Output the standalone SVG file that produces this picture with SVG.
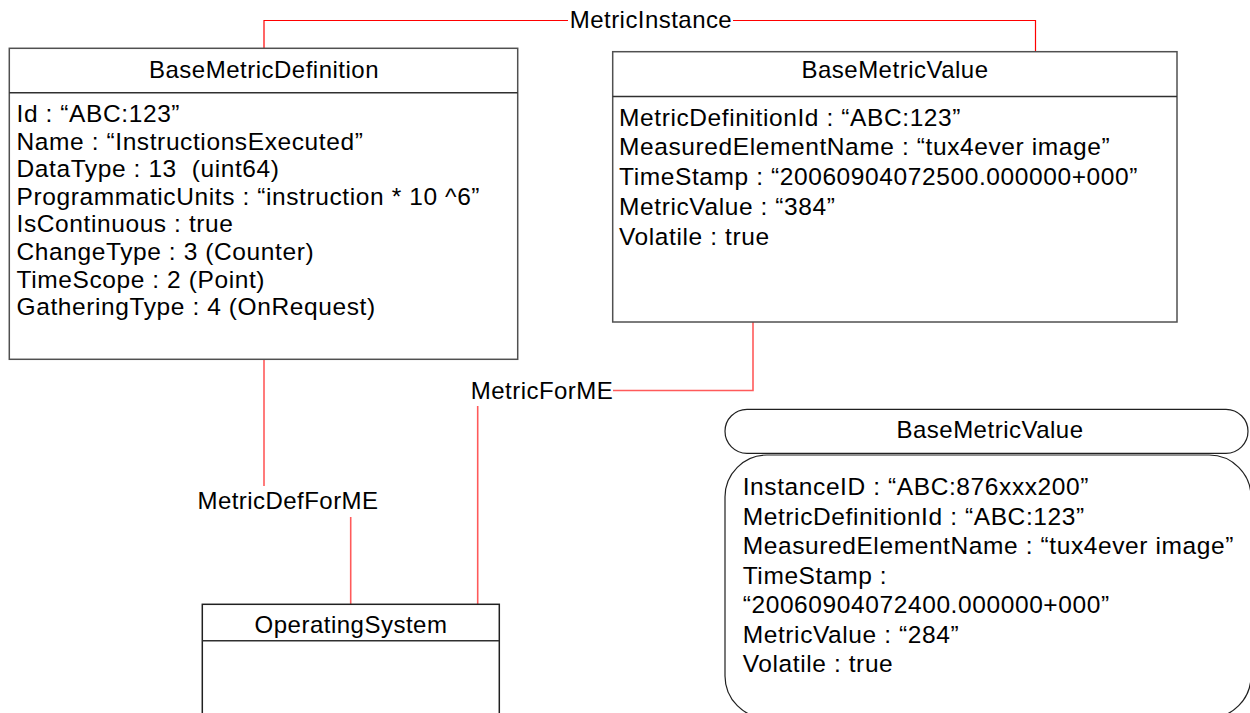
<svg xmlns="http://www.w3.org/2000/svg" width="1250" height="713" viewBox="0 0 1250 713">
<style>
text{font-family:"Liberation Sans",Arial,sans-serif;fill:#000;}
.t{font-size:24px;letter-spacing:0.5px;text-anchor:middle;}
.a{font-size:24.5px;letter-spacing:0.6px;}
.lbl{font-size:24px;letter-spacing:0.45px;text-anchor:middle;}
.box{fill:#fff;stroke:#505050;stroke-width:1.5;}
.sep{stroke:#303030;stroke-width:1.5;fill:none;}
.rb{fill:#fff;stroke:#202020;stroke-width:1.2;}
.c1{stroke:#ff0000;stroke-width:1.2;fill:none;}
.c2{stroke:#ff5a5a;stroke-width:1.6;fill:none;}
</style>
<rect width="1250" height="713" fill="#fff"/>
<g id="connectors">
<polyline class="c1" points="264,48 264,20.5 568,20.5"/>
<polyline class="c1" points="733,20.5 1035.5,20.5 1035.5,52"/>
<polyline class="c2" points="753,322 753,390.5 613,390.5"/>
<line class="c2" x1="477.7" y1="406" x2="477.7" y2="604"/>
<line class="c2" x1="264" y1="359" x2="264" y2="486"/>
<line class="c2" x1="350.7" y1="517" x2="350.7" y2="604"/>
<text class="lbl" x="651" y="28">MetricInstance</text>
<text class="lbl" x="542" y="398.5">MetricForME</text>
<text class="lbl" x="288" y="509">MetricDefForME</text>
</g>
<g id="BaseMetricDefinition">
<rect class="box" x="9.3" y="48.3" width="508.4" height="311"/>
<line class="sep" x1="9.3" y1="92.7" x2="517.7" y2="92.7"/>
<text class="t" x="264" y="78.3">BaseMetricDefinition</text>
<text class="a" x="16.5" y="122">Id : “ABC:123”</text>
<text class="a" x="16.5" y="149.6">Name : “InstructionsExecuted”</text>
<text class="a" x="16.5" y="177.2" xml:space="preserve">DataType : 13  (uint64)</text>
<text class="a" x="16.5" y="204.8">ProgrammaticUnits : “instruction * 10 ^6”</text>
<text class="a" x="16.5" y="232.4">IsContinuous : true</text>
<text class="a" x="16.5" y="260">ChangeType : 3 (Counter)</text>
<text class="a" x="16.5" y="287.6">TimeScope : 2 (Point)</text>
<text class="a" x="16.5" y="315.2">GatheringType : 4 (OnRequest)</text>
</g>
<g id="BaseMetricValue">
<rect class="box" x="612.7" y="51.7" width="564.3" height="270.3"/>
<line class="sep" x1="612.7" y1="96.5" x2="1177" y2="96.5"/>
<text class="t" x="895" y="78">BaseMetricValue</text>
<text class="a" x="619" y="125.5">MetricDefinitionId : “ABC:123”</text>
<text class="a" x="619" y="155.3">MeasuredElementName : “tux4ever image”</text>
<text class="a" x="619" y="185.1">TimeStamp : “20060904072500.000000+000”</text>
<text class="a" x="619" y="214.9">MetricValue : “384”</text>
<text class="a" x="619" y="244.7">Volatile : true</text>
</g>
<g id="OperatingSystem">
<rect class="box" style="stroke:#202020" x="202.3" y="604.3" width="297" height="120"/>
<line class="sep" x1="202.3" y1="640.8" x2="499.3" y2="640.8"/>
<text class="t" x="351" y="633.3">OperatingSystem</text>
</g>
<g id="BaseMetricValueInstance">
<rect class="rb" x="725" y="409.3" width="523" height="44" rx="22" ry="22"/>
<text class="t" x="990" y="438">BaseMetricValue</text>
<rect class="rb" x="725" y="455" width="526" height="263" rx="42" ry="42"/>
<text class="a" x="742.7" y="495">InstanceID : “ABC:876xxx200”</text>
<text class="a" x="742.7" y="524.5">MetricDefinitionId : “ABC:123”</text>
<text class="a" x="742.7" y="554">MeasuredElementName : “tux4ever image”</text>
<text class="a" x="742.7" y="583.5">TimeStamp :</text>
<text class="a" x="742.7" y="613">“20060904072400.000000+000”</text>
<text class="a" x="742.7" y="642.5">MetricValue : “284”</text>
<text class="a" x="742.7" y="672">Volatile : true</text>
</g>
</svg>
